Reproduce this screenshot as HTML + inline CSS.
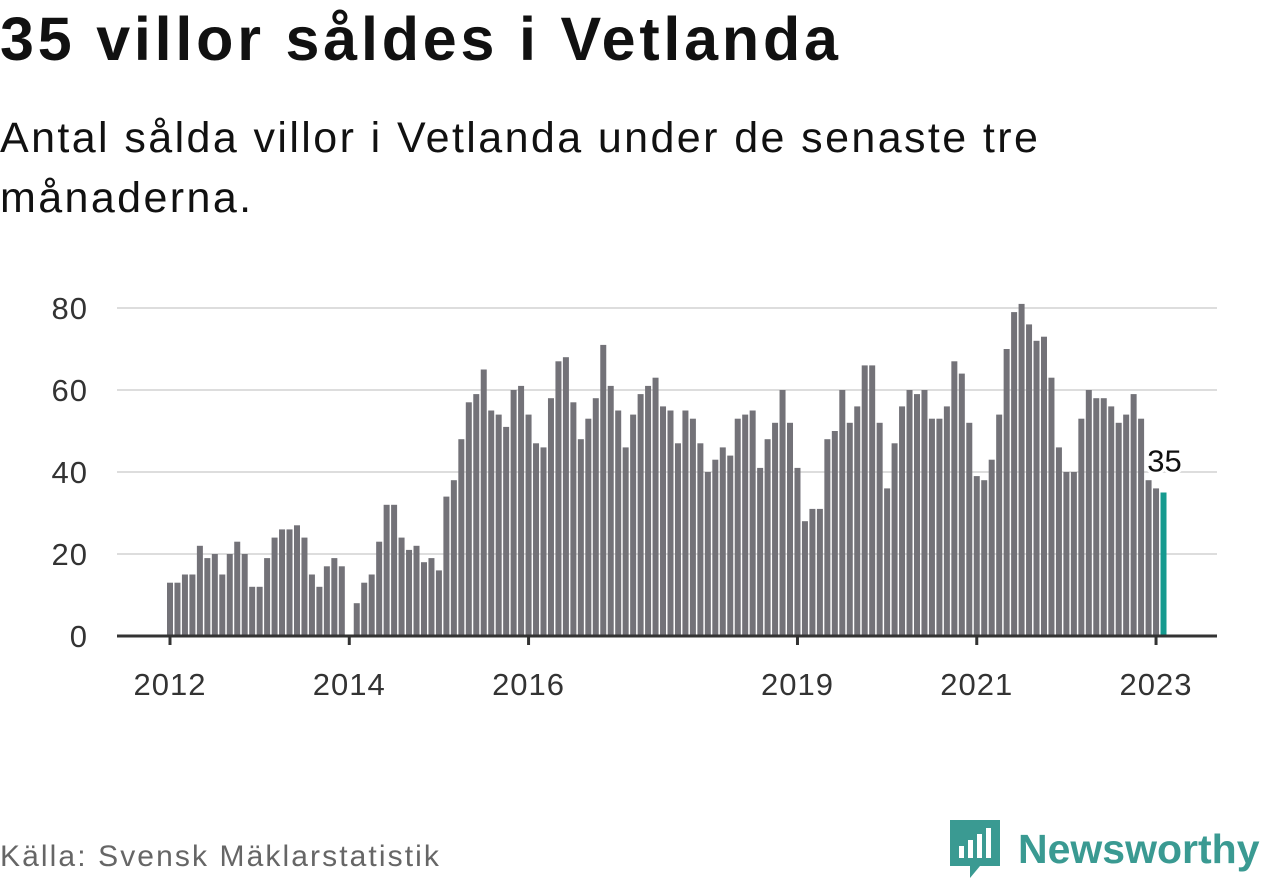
<!DOCTYPE html>
<html><head><meta charset="utf-8"><style>
body{margin:0;width:1262px;height:879px;background:#fff;font-family:"Liberation Sans",sans-serif;overflow:hidden;position:relative}
h1{position:absolute;left:0;top:4px;margin:0;font-size:61px;font-weight:bold;color:#111;letter-spacing:3.8px;white-space:nowrap}
.sub{position:absolute;left:0;top:108px;font-size:43px;line-height:60px;color:#111;width:1080px;letter-spacing:2.4px}
.src{position:absolute;left:0;top:840px;font-size:30px;color:#666;letter-spacing:2.1px}
.logo{position:absolute;left:950px;top:820px;display:flex;align-items:center}
.logo span{font-size:41px;font-weight:bold;color:#3a9a92;margin-left:18px}
</style></head><body>
<h1>35 villor såldes i Vetlanda</h1>
<div class="sub">Antal sålda villor i Vetlanda under de senaste tre månaderna.</div>
<svg id="chart" width="1262" height="879" style="position:absolute;left:0;top:0" xmlns="http://www.w3.org/2000/svg"></svg>
<div class="src">Källa: Svensk Mäklarstatistik</div>
<div class="logo">
<svg width="50" height="58" viewBox="0 0 50 58"><path d="M0 0H50V46H30L20 58L20 46H0Z" fill="#3a9a92"/><rect x="9" y="26" width="5" height="12" fill="#fff"/><rect x="18" y="20" width="5" height="18" fill="#fff"/><rect x="27" y="14" width="5" height="24" fill="#fff"/><rect x="36" y="8" width="5" height="30" fill="#fff"/></svg>
<span>Newsworthy</span></div>
<script>
const values=[13,13,15,15,22,19,20,15,20,23,20,12,
12,19,24,26,26,27,24,15,12,17,19,17,
null,8,13,15,23,32,32,24,21,22,18,19,
16,34,38,48,57,59,65,55,54,51,60,61,
54,47,46,58,67,68,57,48,53,58,71,61,
55,46,54,59,61,63,56,55,47,55,53,47,
40,43,46,44,53,54,55,41,48,52,60,52,
41,28,31,31,48,50,60,52,56,66,66,52,
36,47,56,60,59,60,53,53,56,67,64,52,
39,38,43,54,70,79,81,76,72,73,63,46,
40,40,53,60,58,58,56,52,54,59,53,38,
36,35];
const yTicks=[0,20,40,60,80];
const xTickLabels=["2012","2014","2016","2019","2021","2023"];
const xTickIndex=[0,24,48,84,108,132];
const NS="http://www.w3.org/2000/svg";
const svg=document.getElementById('chart');
const x=i=>170+i*7.47;
const y=v=>636-v*4.1;
function mk(t,a){const e=document.createElementNS(NS,t);for(const k in a)e.setAttribute(k,a[k]);svg.appendChild(e);return e;}
yTicks.forEach(t=>{
 if(t>0){const g=mk('line',{x1:117,x2:1217,y1:y(t),y2:y(t),stroke:'#ddd','stroke-width':2});
 
 }
 const l=mk('text',{x:88,y:y(t)+11,'text-anchor':'end','font-size':31,fill:'#333','letter-spacing':1,'font-family':'Liberation Sans, sans-serif'});
 l.textContent=t;
 
 
});
values.forEach((v,i)=>{
 if(v==null)return;
 const last=i===values.length-1;
 const r=mk('rect',{x:x(i)-3,y:y(v),width:6,height:636-y(v),fill:last?'#159a8f':'#737278'});
 
 
});
const ax=mk('line',{x1:117,x2:1217,y1:636,y2:636,stroke:'#333','stroke-width':3});


xTickLabels.forEach((s,k)=>{
 const xi=x(xTickIndex[k]);
 const tk=mk('line',{x1:xi,x2:xi,y1:636,y2:645,stroke:'#333','stroke-width':3});
 
 
 const l=mk('text',{x:xi,y:695,'text-anchor':'middle','font-size':31,fill:'#333','letter-spacing':1,'font-family':'Liberation Sans, sans-serif'});
 l.textContent=s;
 
 
});
const li=values.length-1;
const lab=mk('text',{x:x(li)+1,y:y(values[li])-21,'text-anchor':'middle','font-size':31,fill:'#111',stroke:'#fff','stroke-width':6,'paint-order':'stroke','stroke-linejoin':'round','font-family':'Liberation Sans, sans-serif'});
lab.textContent=values[li];


</script>
</body></html>
